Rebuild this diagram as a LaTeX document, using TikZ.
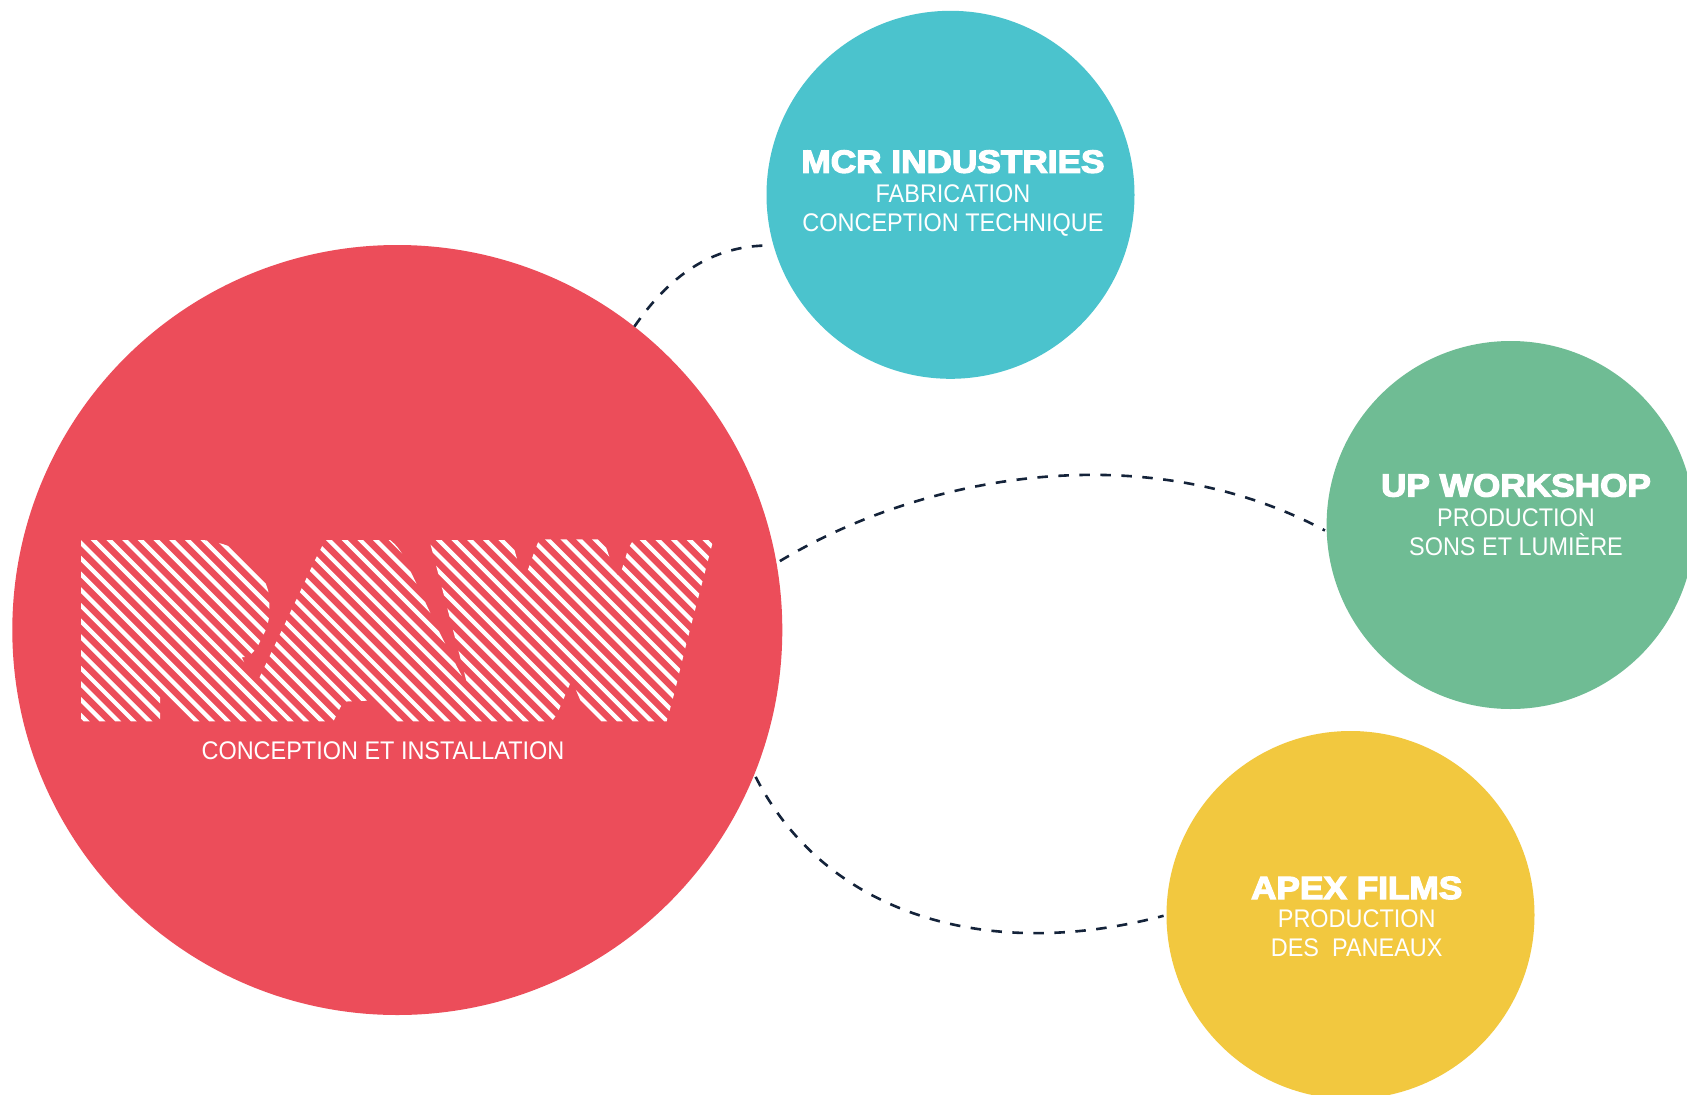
\documentclass[tikz,border=0pt]{standalone}
\usepackage{fontspec}
\setmainfont{Liberation Sans}
\newfontfamily\heavyfont[FakeBold=4,FakeStretch=1.1]{Liberation Sans Bold}
\newfontfamily\lightfont[FakeStretch=0.92]{Liberation Sans}
\definecolor{rawred}{HTML}{EC4D5A}
\definecolor{mcrteal}{HTML}{4BC3CD}
\definecolor{upgreen}{HTML}{6FBC94}
\definecolor{apexyellow}{HTML}{F2C83F}
\definecolor{linknavy}{HTML}{14233A}
\tikzset{
  bubble/.style={circle,draw=none,inner sep=0pt,outer sep=0pt},
  titletext/.style={anchor=base,text=white,font=\heavyfont\fontsize{32}{34}\selectfont,inner sep=0pt},
  subtext/.style={anchor=base,text=white,font=\lightfont\fontsize{25.5}{28}\selectfont,inner sep=0pt},
  linkline/.style={draw=linknavy,line width=2.6pt,dash pattern=on 10.5pt off 10.5pt},
  hatchline/.style={draw=white,line width=4.2pt}
}
\begin{document}
\begin{tikzpicture}[x=1pt,y=-1pt]
\useasboundingbox (0,0) rectangle (1687,1095);
\clip (0,0) rectangle (1687,1095);
\fill[white] (0,0) rectangle (1687,1095);
\node[bubble,fill=rawred,minimum size=770pt] (raw) at (397.3,630) {};
\node[bubble,fill=mcrteal,minimum size=368pt] (mcr) at (950.5,194.8) {};
\node[bubble,fill=upgreen,minimum size=368pt] (up) at (1510.6,525) {};
\node[bubble,fill=apexyellow,minimum size=368pt] (apex) at (1350.5,915) {};
\draw[linkline,shorten >=3pt] (raw.52) .. controls (668,278) and (710,245) .. (mcr.196);
\draw[linkline,shorten <=4pt,shorten >=2pt] (raw.10) .. controls (930,471) and (1150,437) .. (up.182);
\draw[linkline,shorten <=3pt,shorten >=3pt] (raw.-22.8) .. controls (825,913) and (985,963) .. (apex.180);
\begin{scope}[shift={(60,520)},scale=0.33333]
  \begin{scope}
    \clip (63,60) -- (430,60) .. controls (465,65) and (495,72) .. (520,85)
      .. controls (565,110) and (595,140) .. (610,175)
      .. controls (625,205) and (628,225) .. (628,240) -- (628,290) -- (620,325) -- (590,385) -- (565,410)
      -- (545,412) -- (575,470) -- (585,478) -- (595,480) -- (770,110) -- (796,60) -- (990,60)
      .. controls (1010,75) and (1030,100) .. (1045,140)
      -- (1088,230) -- (1130,320) -- (1175,410) -- (1225,505)
      -- (1120,105) -- (1108,60) -- (1355,60) -- (1380,148) -- (1392,160)
      -- (1400,160) -- (1425,90) -- (1438,58) -- (1630,58) -- (1660,145) -- (1672,165)
      -- (1682,160) -- (1705,85) -- (1720,60) -- (1960,60) -- (1930,175) -- (1900,290)
      -- (1872,400) -- (1845,512) -- (1820,604) -- (1600,604) -- (1575,580) -- (1565,550)
      -- (1535,480) -- (1520,515) -- (1490,585) -- (1475,604) -- (1000,604) -- (965,560)
      -- (945,541) -- (850,545) -- (820,604) -- (385,604) -- (345,555) -- (300,505) -- (300,604)
      -- (63,604) -- cycle;
    \foreach \k in {-14,...,45} {
      \draw[hatchline] ({81+47.05*\k},40) -- ({81+47.05*\k+580},620);
    }
  \end{scope}
\end{scope}
\node[subtext] (rawsub) at (383,759) {CONCEPTION ET INSTALLATION};
\node[titletext] (mcrt) at (953,172.7) {MCR INDUSTRIES};
\node[subtext] (mcra) at (953,202) {FABRICATION};
\node[subtext] (mcrb) at (953,231) {CONCEPTION TECHNIQUE};
\node[titletext] (upt) at (1516,496.5) {UP WORKSHOP};
\node[subtext] (upa) at (1516,526) {PRODUCTION};
\node[subtext] (upb) at (1516,555) {SONS ET LUMIÈRE};
\node[titletext] (apext) at (1356.7,899) {APEX FILMS};
\node[subtext] (apexa) at (1356.7,927.5) {PRODUCTION};
\node[subtext] (apexb) at (1356.7,956.5) {DES\ \ PANEAUX};
\end{tikzpicture}
\end{document}
